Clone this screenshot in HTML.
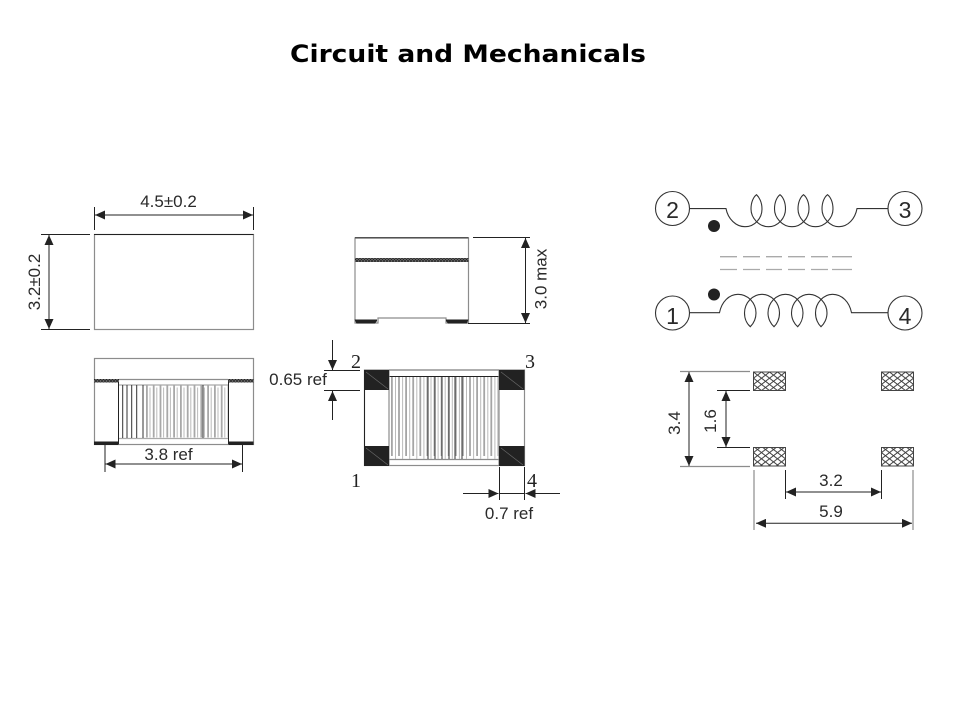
<!DOCTYPE html>
<html>
<head>
<meta charset="utf-8">
<title>Circuit and Mechanicals</title>
<style>
html,body{margin:0;padding:0;background:#fff;width:960px;height:720px;overflow:hidden}
svg{display:block}
text{font-family:"Liberation Sans",sans-serif;font-size:17px;fill:#2a2a2a;text-anchor:middle}
.s{font-family:"Liberation Serif",serif;font-size:20px;fill:#222}
.n{font-size:23px;fill:#2a2a2a}
.k{stroke:#222;stroke-width:1;fill:none}
.g{stroke:#8c8c8c;stroke-width:1.2;fill:none}
.lg{stroke:#aaa;stroke-width:1.3;fill:none}
.c{stroke:#333;stroke-width:1.1;fill:none}
</style>
</head>
<body>
<svg width="960" height="720" viewBox="0 0 960 720" xmlns="http://www.w3.org/2000/svg">
<defs>
<pattern id="h" x="753.500" y="372" width="8" height="6.200" patternUnits="userSpaceOnUse">
<rect width="8" height="6.200" fill="#fff"/>
<path d="M0 0L8 6.200M0 6.200L8 0" stroke="#333" stroke-width=".9" fill="none"/>
</pattern>
<pattern id="b" width="3" height="3" patternUnits="userSpaceOnUse">
<rect width="3" height="3" fill="#777"/>
<path d="M0 0L3 3M0 3L3 0" stroke="#222" stroke-width=".7"/>
</pattern>
<marker id="e" viewBox="0 0 10 9" refX="10" refY="4.500" markerWidth="10" markerHeight="9" markerUnits="userSpaceOnUse" orient="auto-start-reverse">
<path d="M0 0L10 4.500L0 9Z" fill="#222"/>
</marker>
</defs>

<text x="468" y="62" style="font-family:'DejaVu Sans',sans-serif;font-weight:bold;font-size:24px;fill:#000" textLength="356" lengthAdjust="spacingAndGlyphs">Circuit and Mechanicals</text>

<!-- Top-left view -->
<rect x="94.500" y="234.500" width="159" height="95" fill="#fff" stroke="#8c8c8c" stroke-width="1.2"/>
<path d="M94 234.500H253.500" class="k"/>
<path d="M94.500 207V230M253.500 207V230" class="k"/>
<path d="M95 215H253" class="k" marker-start="url(#e)" marker-end="url(#e)"/>
<text x="168.500" y="207">4.5±0.2</text>
<path d="M41 234.500H90M41 329.500H90" class="k"/>
<path d="M49 235V329" class="k" marker-start="url(#e)" marker-end="url(#e)"/>
<text transform="translate(40,282) rotate(-90)">3.2±0.2</text>

<!-- Bottom-left view -->
<rect x="94.500" y="358.500" width="159" height="86" fill="#fff" stroke="#8c8c8c" stroke-width="1.2"/>
<path d="M119 379.500H228" class="g"/>
<rect x="94" y="379" width="25" height="3.500" fill="url(#b)"/>
<rect x="228" y="379" width="25.500" height="3.500" fill="url(#b)"/>
<path d="M118.500 382V444M228.500 382V444" class="k"/>
<path d="M119 385H228M119 438.500H228" class="lg"/>
<path d="M146 411H228" stroke="#a8a8a8" stroke-width="53" stroke-dasharray="1.800 5" fill="none"/>
<path d="M149.500 412.500H228" stroke="#bbb" stroke-width="50" stroke-dasharray="1 5.800" fill="none"/>
<path d="M122.700 385V438M127 385V438M131.700 385V438M136.700 385V438M143 385V438M203 385V438" stroke="#333" stroke-width="1" fill="none"/>
<path d="M94 441.500H118.500V445H94ZM228.500 441.500H253.500V445H228.500Z" fill="#222"/>
<path d="M105 445V472M242.500 445V472" class="k"/>
<path d="M105.500 464H242" class="k" marker-start="url(#e)" marker-end="url(#e)"/>
<text x="168.500" y="460">3.8 ref</text>

<!-- Top-middle view -->
<path d="M355 238H468.500V323H446V318H378V323H355Z" fill="#fff" class="g"/>
<path d="M355 237.800H468.500" class="k"/>
<rect x="355" y="258" width="113.500" height="4" fill="url(#b)"/>
<path d="M354.500 319.500H377V321L375 323.500H356.500ZM446 319.500H468.500L467 323.500H448L446 321Z" fill="#222"/>
<path d="M473 237.500H530M468 323.500H530" class="k"/>
<path d="M525.500 238V323" class="k" marker-start="url(#e)" marker-end="url(#e)"/>
<text transform="translate(546.500,279) rotate(-90)">3.0 max</text>

<!-- Center view -->
<rect x="364.500" y="370" width="160" height="95.500" fill="#fff" class="g"/>
<path d="M364.500 370V466" class="k"/>
<path d="M389 370H499" class="g"/>
<path d="M389 376.500H499" class="k"/>
<path d="M389 459.500H499" class="g"/>
<path d="M389 370V466M499 370V466" class="g"/>
<path d="M391 416.500H499" stroke="#a5a5a5" stroke-width="79" stroke-dasharray="1.800 5.300" fill="none"/>
<path d="M395 418H499" stroke="#bbb" stroke-width="82" stroke-dasharray="1 6.100" fill="none"/>
<path d="M428 377V459M435 377V459M442 377V459M449 377V459M455 377V459M462 377V459" stroke="#333" stroke-width="1" fill="none"/>
<path d="M364 370H389V390H364ZM499 370H524.500V390H499ZM364 446H389V466H364ZM499 446H524.500V466H499Z" fill="#222"/>
<path d="M366 372L388 389M501 372L523 389M366 448L388 465M501 448L523 465" stroke="#666" stroke-width=".7" fill="none"/>
<path d="M324 370.500H360M324 390.500H360" class="k"/>
<path d="M332.500 340V370" class="k" marker-end="url(#e)"/>
<path d="M332.500 420V391" class="k" marker-end="url(#e)"/>
<text x="298" y="385">0.65 ref</text>
<text class="s" x="356" y="368">2</text>
<text class="s" x="530" y="368">3</text>
<text class="s" x="356" y="487">1</text>
<text class="s" x="532" y="487">4</text>
<path d="M499.500 467V500M524.500 467V500" class="k"/>
<path d="M463 493.500H498.500" class="k" marker-end="url(#e)"/>
<path d="M560 493.500H525.500" class="k" marker-end="url(#e)"/>
<path d="M499.500 493.500H524.500" class="k"/>
<text x="509" y="519">0.7 ref</text>

<!-- Schematic -->
<circle cx="672.500" cy="208.500" r="17" class="c" fill="#fff"/>
<circle cx="905" cy="208.500" r="17" class="c" fill="#fff"/>
<circle cx="672.500" cy="313" r="17" class="c" fill="#fff"/>
<circle cx="905" cy="313" r="17" class="c" fill="#fff"/>
<text class="n" x="672.500" y="218">2</text>
<text class="n" x="905" y="218">3</text>
<text class="n" x="672.500" y="324">1</text>
<text class="n" x="905" y="324">4</text>
<path d="M689.500 208.600H726C728 219 736 226.700 745 226.700C755 226.700 762 218 762 209C762 202 759 197 756.500 194.700C753.500 197 751 202 751 209C751 218 759 226.700 768.500 226.700C778 226.700 785.500 218 785.500 209C785.500 202 783 197 780 194.700C777 197 774.500 202 774.500 209C774.500 218 782.500 226.700 792 226.700C801.500 226.700 809 218 809 209C809 202 806.500 197 803.500 194.700C800.500 197 798 202 798 209C798 218 806 226.700 815.500 226.700C825 226.700 833 218 833 209C833 202 830.500 197 827.500 194.700C824.500 197 822 202 822 209C822 218 830 226.700 839 226.700C848 226.700 855 219 857 208.600H888" class="c"/>
<path d="M689.500 312.700H719.500C721.500 302 729 294.300 738 294.300C748 294.300 756 303 756 313C756 319 753 324 750.300 326.700C747 324 744.500 319 744.500 313C744.500 303 752.500 294.300 762 294.300C771.500 294.300 779.500 303 779.500 313C779.500 319 777 324 774 326.700C771 324 768 319 768 313C768 303 776 294.300 785.500 294.300C795 294.300 803 303 803 313C803 319 800.500 324 797.700 326.700C794.500 324 791.500 319 791.500 313C791.500 303 799.500 294.300 809 294.300C818.500 294.300 827 303 827 313C827 319 824 324 821 326.700C818 324 815.500 319 815.500 313C815.500 303 823.500 294.300 832.500 294.300C842 294.300 849.500 302 851.500 312.700H888" class="c"/>
<circle cx="714" cy="226" r="6" fill="#222"/>
<circle cx="714" cy="294.500" r="6" fill="#222"/>
<path d="M720 256.700H737M743 256.700H760M766 256.700H782M788 256.700H805M811 256.700H828M832 256.700H852M720 269.500H737M743 269.500H760M766 269.500H782M788 269.500H805M811 269.500H828M832 269.500H852" class="lg"/>

<!-- Land pattern -->
<rect x="753.500" y="372" width="32" height="18.500" fill="url(#h)" stroke="#444"/>
<rect x="881.500" y="372" width="32" height="18.500" fill="url(#h)" stroke="#444"/>
<rect x="753.500" y="447.500" width="32" height="18.500" fill="url(#h)" stroke="#444"/>
<rect x="881.500" y="447.500" width="32" height="18.500" fill="url(#h)" stroke="#444"/>
<path d="M680 371.500H750M680 466.500H750" class="g"/>
<path d="M717 390.500H750M717 447.500H750" class="k"/>
<path d="M689 372V466" class="k" marker-start="url(#e)" marker-end="url(#e)"/>
<path d="M726 391V447" class="k" marker-start="url(#e)" marker-end="url(#e)"/>
<text transform="translate(680,423) rotate(-90)">3.4</text>
<text transform="translate(716,421) rotate(-90)">1.6</text>
<path d="M785.500 470V499M881.500 470V499" class="k"/>
<path d="M754 470V530M913 470V530" class="g"/>
<path d="M786 492H881" class="k" marker-start="url(#e)" marker-end="url(#e)"/>
<path d="M756 523.300H912" class="k" marker-start="url(#e)" marker-end="url(#e)"/>
<text x="831" y="486">3.2</text>
<text x="831" y="517">5.9</text>
</svg>
</body>
</html>
